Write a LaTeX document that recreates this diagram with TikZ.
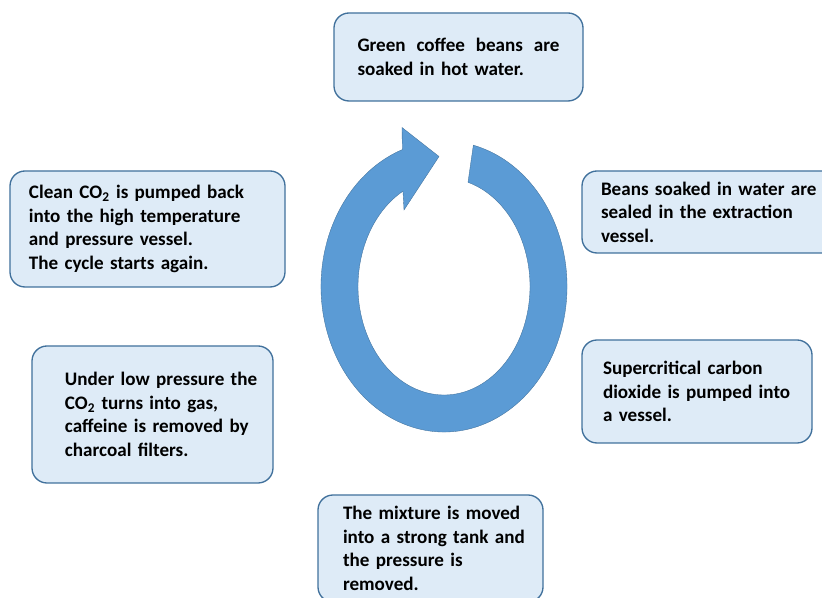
\documentclass[tikz,border=0pt]{standalone}
\usepackage{fontspec}
\setmainfont{Carlito}
\usepackage{tikz}
\usetikzlibrary{calc}
\definecolor{stagefill}{HTML}{DEEBF7}
\definecolor{stageline}{HTML}{41719C}
\definecolor{ringfill}{HTML}{5B9BD5}
\tikzset{
  stage/.style = {draw=stageline, fill=stagefill, line width=0.4mm,
                  rounded corners=4.5mm, inner sep=0pt,
                  font=\fontsize{16.3}{20}\selectfont\bfseries,
                  execute at begin node={\rightskip=0pt minus 100pt\relax}},
  ring/.style  = {fill=ringfill, draw=stageline, line width=0.3pt},
}

\begin{document}
\begin{tikzpicture}[x=0.3mm, y=0.3mm]
  \useasboundingbox (0,0) rectangle (822,598);

  \coordinate (c) at (444,311.5);
  \path[ring] ($(c)+(76.2:123 and 145.5)$)
      arc[start angle=76.2, end angle=-250.2, x radius=123, y radius=145.5]
      -- (402,470.5) -- (439,441.5) -- (404,388)
      -- ($(c)+(118.5:86 and 108.5)$)
      arc[start angle=118.5, end angle=433.8, x radius=86, y radius=108.5]
      -- cycle;

  \node[stage, minimum width=74.7mm, minimum height=26.4mm, text width=60.6mm]
    (soak) at (458.5,541)
    {\makebox[60.6mm]{Green\hfill coffee\hfill beans\hfill are}\\soaked in hot water.};
  \node[stage, minimum width=77.4mm, minimum height=24.6mm, text width=66mm]
    (seal) at (711,386)
    {Beans soaked in water are\\sealed in the extraction\\vessel.};
  \node[stage, minimum width=69mm, minimum height=30.9mm, text width=56.4mm]
    (pump) at (697,206.5)
    {Supercritical carbon\\dioxide is pumped into\\a vessel.};
  \node[stage, minimum width=67.5mm, minimum height=32.1mm, text width=52.5mm]
    (tank) at (430.5,49.5)
    {The mixture is moved\\into a strong tank and\\the pressure is\\removed.};
  \node[stage, minimum width=72.3mm, minimum height=41.1mm, text width=52.5mm]
    (filter) at (152.5,183.5)
    {Under low pressure the\\CO\textsubscript{2} turns into gas,\\caffeine is removed by\\charcoal filters.};
  \node[stage, minimum width=82.5mm, minimum height=34.8mm, text width=71.1mm]
    (recycle) at (147.5,369)
    {Clean CO\textsubscript{2} is pumped back\\into the high temperature\\and pressure vessel.\\The cycle starts again.};
\end{tikzpicture}
\end{document}
